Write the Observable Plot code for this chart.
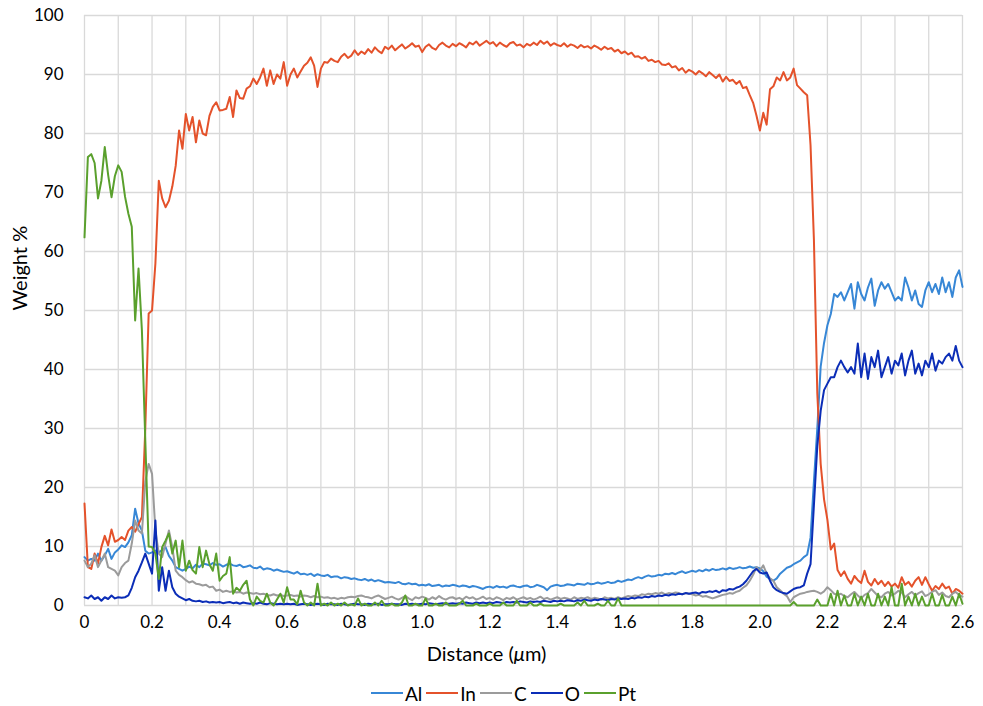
<!DOCTYPE html>
<html>
<head>
<meta charset="utf-8">
<script src="https://cdn.jsdelivr.net/npm/d3@7"></script>
<script src="https://cdn.jsdelivr.net/npm/@observablehq/plot@0.6"></script>
<style>
  html, body { margin: 0; padding: 0; background: #fff; }
  #chart { width: 983px; font-family: Lato, "Open Sans", sans-serif; }
  #legend { display: flex; justify-content: center; align-items: center; padding-left: 28px; padding-top: 6px; height: 24px; font-family: Lato, sans-serif; font-size: 19px; color: #000; }
  .item { display: flex; align-items: center; margin-right: 4px; }
  .sw { width: 32px; height: 2px; margin-right: 2px; }
</style>
</head>
<body>
<div id="chart"></div>
<div id="legend"></div>
<script>
// sampling positions along the line scan (µm), 0.01 µm step
const distance = d3.range(261).map(i => i / 100);

const al = [
  8.2, 7.6, 7.9, 7.6, 8.8, 7.6, 8.5, 9.6, 7.9, 9.0,
  9.5, 10.2, 9.9, 10.7, 11.9, 16.4, 13.9, 12.7, 9.3, 8.8,
  9.0, 9.3, 9.0, 9.4, 9.9, 8.4, 7.6, 6.5, 6.2, 5.9,
  6.2, 6.6, 6.3, 6.9, 6.5, 7.1, 7.0, 6.8, 7.2, 6.9,
  7.0, 6.6, 6.9, 7.1, 6.8, 6.7, 6.9, 6.5, 6.6, 6.8,
  6.4, 6.3, 6.6, 6.1, 6.3, 6.2, 5.9, 6.1, 5.9, 5.7,
  5.8, 5.6, 5.4, 5.7, 5.3, 5.4, 5.2, 5.4, 5.0, 5.3,
  5.1, 5.0, 5.2, 4.8, 4.9, 4.9, 4.6, 4.8, 4.7, 4.5,
  4.6, 4.4, 4.3, 4.5, 4.2, 4.4, 4.1, 4.3, 4.1, 3.9,
  4.0, 3.9, 3.8, 4.0, 3.7, 3.6, 3.8, 3.6, 3.7, 3.4,
  3.5, 3.4, 3.6, 3.3, 3.4, 3.5, 3.2, 3.4, 3.3, 3.5,
  3.4, 3.2, 3.4, 3.3, 3.1, 3.3, 3.2, 3.0, 2.8, 3.1,
  3.2, 3.0, 3.3, 3.1, 3.2, 3.0, 3.3, 3.4, 3.2, 3.1,
  3.3, 3.4, 3.1, 3.2, 3.5, 3.3, 3.1, 2.6, 3.2, 3.4,
  3.5, 3.3, 3.4, 3.6, 3.5, 3.4, 3.7, 3.6, 3.5, 3.8,
  3.6, 3.7, 3.9, 3.7, 3.8, 4.0, 3.8, 3.9, 4.2, 4.0,
  4.2, 4.4, 4.3, 4.6, 4.8, 4.6, 4.9, 5.1, 4.9, 5.0,
  5.2, 5.1, 5.4, 5.3, 5.5, 5.3, 5.6, 5.8, 5.5, 5.7,
  5.9, 5.7, 6.0, 5.8, 6.1, 5.9, 6.2, 6.0, 6.1, 6.3,
  6.1, 6.4, 6.2, 6.3, 6.5, 6.3, 6.4, 6.6, 6.4, 6.5,
  6.3, 5.8, 4.9, 4.5, 4.2, 4.6, 5.4, 5.9, 6.4, 6.6,
  7.0, 7.3, 7.6, 8.2, 8.6, 11.5, 21.0, 30.0, 40.5, 44.5,
  47.5, 49.4, 52.8, 52.3, 53.1, 51.7, 53.1, 54.5, 50.3, 54.8,
  52.8, 51.7, 53.9, 55.4, 50.8, 53.4, 54.8, 53.7, 54.5, 53.1,
  51.7, 52.3, 51.7, 55.6, 53.9, 51.7, 53.4, 51.1, 50.6, 53.4,
  54.8, 53.1, 54.5, 52.8, 55.6, 53.1, 54.8, 52.3, 55.6, 56.8,
  54.0
];

const inWt = [
  17.3, 6.5, 6.2, 8.8, 7.1, 9.9, 11.8, 10.2, 12.9, 10.8,
  11.1, 11.6, 11.1, 12.7, 13.3, 12.5, 13.8, 15.0, 30.0, 49.5,
  50.0, 58.0, 72.0, 69.0, 67.5, 68.6, 71.0, 74.5, 80.5, 77.4,
  83.3, 80.5, 82.8, 78.5, 82.2, 80.0, 79.7, 83.0, 84.5, 85.3,
  83.9, 84.0, 84.2, 86.2, 82.8, 87.3, 86.0, 85.9, 87.6, 88.0,
  89.3, 88.4, 89.5, 91.0, 88.1, 90.7, 88.4, 90.0, 89.3, 92.1,
  88.1, 90.0, 91.0, 89.5, 90.5, 91.5, 92.0, 92.9, 91.5, 87.9,
  91.0, 92.1, 92.0, 92.7, 92.3, 92.1, 93.0, 93.5, 92.8, 93.2,
  94.1, 93.3, 93.9, 93.5, 94.3, 93.7, 94.6, 94.0, 93.6, 94.7,
  94.3, 94.9, 94.1, 94.6, 95.1, 94.4, 94.8, 95.3, 94.7, 94.9,
  93.8, 94.7, 95.1, 94.5, 94.2, 95.0, 95.4, 94.9, 94.6, 95.2,
  94.8, 95.3, 95.0, 94.6, 95.4, 95.1, 95.6, 94.9, 95.3, 95.7,
  95.2, 95.5, 94.8, 95.4, 95.0, 94.7, 95.3, 95.5, 94.9, 95.1,
  94.6, 95.2, 94.9, 95.4, 95.0, 95.7, 95.2, 95.6, 94.9, 95.3,
  95.0, 94.8, 95.3, 94.7, 95.1, 94.9, 94.5, 95.0, 94.6, 94.8,
  94.4, 94.9, 94.6, 94.2, 94.7, 94.3, 94.5, 93.9, 94.2, 93.6,
  93.9, 93.4, 93.7, 93.0, 93.1, 92.7, 93.0, 92.3, 92.5, 92.1,
  92.3, 91.7, 91.6, 91.9, 91.2, 91.4, 90.7, 91.1, 90.3, 90.8,
  90.5, 90.0, 90.6, 90.2, 89.7, 90.4, 89.9, 89.4, 90.0, 88.8,
  89.6, 88.9, 89.1, 88.4, 88.9, 87.7, 87.9, 86.5, 85.2, 83.0,
  80.5, 83.5, 81.5, 87.5, 88.0, 89.5, 89.0, 90.4, 89.0, 89.5,
  91.0, 88.2, 87.6, 87.0, 86.5, 78.0, 62.0, 36.0, 24.0, 18.0,
  14.5, 9.5, 10.5, 6.0, 5.0, 5.8, 4.5, 3.7, 5.0, 4.3,
  3.8, 5.9, 4.0, 3.4, 4.5, 3.6, 4.2, 3.3, 4.0, 3.2,
  3.7, 3.0, 4.8, 3.5, 4.0, 3.2, 4.2, 4.8, 3.5, 4.8,
  3.6, 2.5, 3.3, 2.8, 3.7, 2.9, 3.2, 2.0, 2.8, 2.5,
  2.0
];

const c = [
  7.6, 6.5, 7.1, 8.5, 6.5, 7.6, 8.8, 6.5, 6.2, 5.9,
  5.1, 6.5, 7.2, 7.6, 10.5, 14.4, 12.7, 12.2, 21.0, 24.0,
  22.3, 12.7, 8.8, 8.2, 10.5, 12.7, 9.9, 5.9, 5.2, 4.8,
  4.3, 3.9, 4.1, 3.7, 3.6, 3.4, 3.5, 3.1, 3.2, 2.5,
  2.7, 2.3, 2.5, 2.3, 2.4, 2.2, 2.3, 2.0, 2.2, 2.1,
  2.0, 2.1, 1.9, 2.0, 1.8, 1.7, 1.9, 1.7, 1.8, 1.6,
  1.7, 1.8, 1.6, 1.7, 1.5, 1.7, 1.6, 1.4, 1.6, 1.4,
  1.5, 1.3, 1.4, 1.2, 1.3, 1.1, 1.3, 1.2, 1.4, 1.5,
  1.4, 1.6, 1.7, 1.5, 1.4, 1.2, 1.5, 1.7, 1.4, 1.1,
  1.3, 1.5, 1.2, 1.0, 1.3, 1.6, 1.2, 0.9, 1.4, 1.2,
  1.5, 1.3, 1.0, 1.4, 1.1, 1.6, 1.2, 1.0, 1.3, 1.4,
  1.1, 1.3, 1.0, 1.5, 1.2, 1.4, 1.0, 1.2, 1.5, 1.1,
  1.3, 1.0, 1.4, 1.2, 0.9, 1.3, 1.1, 1.4, 1.0, 1.2,
  1.4, 1.1, 1.3, 1.0, 1.2, 1.5, 1.1, 1.3, 1.0, 1.2,
  1.4, 1.1, 1.3, 1.2, 1.0, 1.4, 1.1, 1.3, 1.2, 1.4,
  1.1, 1.3, 1.2, 1.0, 1.4, 1.2, 1.3, 1.1, 1.4, 1.2,
  1.4, 1.6, 1.5, 1.7, 1.6, 1.9, 1.8, 2.0, 1.9, 2.1,
  2.0, 2.2, 1.9, 2.1, 2.0, 2.2, 2.1, 1.9, 2.1, 2.0,
  1.9, 1.7, 1.8, 1.5, 1.6, 1.4, 1.2, 1.4, 1.6, 1.8,
  1.9, 2.1, 2.0, 2.3, 2.5, 3.0, 3.4, 4.2, 5.2, 6.5,
  5.9, 6.8, 5.4, 4.6, 4.2, 3.1, 2.6, 2.0, 1.6, 0.6,
  1.4, 1.7, 2.0, 2.1, 2.3, 2.4, 2.5, 2.3, 2.0, 2.4,
  3.1, 2.6, 2.0, 1.8, 2.0, 1.6, 1.4, 1.9, 2.3, 1.7,
  1.2, 1.8, 2.1, 2.8, 2.2, 1.6, 1.4, 2.0, 2.3, 1.7,
  2.0, 2.5, 2.2, 1.4, 1.9, 2.3, 1.7, 2.1, 2.4, 1.6,
  1.9, 2.3, 2.6, 1.8, 2.2, 1.6, 1.4, 2.0, 2.3, 1.8,
  1.5
];

const o = [
  1.4, 1.2, 1.7, 1.1, 1.4, 0.8, 1.4, 1.1, 1.7, 1.2,
  1.4, 1.3, 1.4, 1.7, 3.0, 4.8, 5.9, 7.3, 8.8, 7.1,
  5.4, 14.4, 2.5, 6.5, 2.5, 5.9, 3.1, 2.0, 1.5, 1.2,
  0.9, 1.1, 0.8, 0.7, 0.8, 0.6, 0.7, 0.5, 0.6, 0.5,
  0.6, 0.4, 0.5, 0.6, 0.4, 0.5, 0.3, 0.5, 0.4, 0.3,
  0.4, 0.3, 0.5, 0.3, 0.2, 0.4, 0.3, 0.2, 0.3, 0.2,
  0.3, 0.2, 0.3, 0.1, 0.2, 0.3, 0.2, 0.1, 0.2, 0.3,
  0.2, 0.1, 0.3, 0.2, 0.2, 0.1, 0.3, 0.2, 0.1, 0.2,
  0.3, 0.2, 0.2, 0.1, 0.3, 0.2, 0.2, 0.3, 0.1, 0.2,
  0.2, 0.3, 0.2, 0.2, 0.1, 0.3, 0.2, 0.3, 0.2, 0.2,
  0.3, 0.2, 0.4, 0.3, 0.2, 0.3, 0.4, 0.3, 0.3, 0.4,
  0.3, 0.4, 0.3, 0.5, 0.4, 0.3, 0.5, 0.4, 0.5, 0.4,
  0.5, 0.4, 0.6, 0.5, 0.4, 0.6, 0.5, 0.6, 0.5, 0.7,
  0.6, 0.5, 0.7, 0.6, 0.7, 0.6, 0.8, 0.7, 0.6, 0.8,
  0.7, 0.8, 0.7, 0.9, 0.8, 0.7, 0.9, 0.8, 1.0, 0.9,
  0.8, 1.0, 0.9, 1.1, 1.0, 0.9, 1.1, 1.0, 1.2, 1.1,
  1.2, 1.1, 1.3, 1.2, 1.4, 1.3, 1.5, 1.4, 1.6, 1.5,
  1.7, 1.6, 1.8, 1.7, 1.9, 1.8, 2.0, 1.9, 2.1, 2.0,
  2.1, 2.2, 2.0, 2.3, 2.2, 2.4, 2.3, 2.5, 2.2, 2.6,
  2.5, 2.8, 2.7, 3.0, 3.2, 3.6, 4.2, 5.0, 5.8, 6.2,
  5.6, 5.4, 5.6, 4.2, 3.1, 2.6, 2.3, 2.1, 2.0, 2.4,
  2.8, 3.0, 3.1, 3.4, 5.4, 7.0, 17.0, 27.0, 33.0, 36.5,
  37.6, 38.7, 38.7, 40.4, 41.5, 40.4, 39.5, 40.4, 39.3, 44.4,
  38.7, 42.7, 38.4, 42.1, 40.4, 43.2, 38.7, 40.4, 42.1, 39.3,
  41.5, 40.7, 42.7, 39.0, 41.5, 43.2, 39.3, 41.0, 39.0, 41.5,
  40.4, 42.7, 39.8, 41.5, 41.0, 42.1, 42.7, 41.5, 44.0, 41.5,
  40.4
];

const pt = [
  62.4, 76.0, 76.5, 75.0, 69.0, 72.0, 77.7, 73.0, 69.2, 72.8,
  74.6, 73.5, 69.3, 66.4, 64.2, 48.3, 57.1, 46.6, 28.0, 10.0,
  9.9, 8.8, 4.5, 9.9, 11.0, 12.2, 8.8, 11.0, 6.5, 11.0,
  5.9, 7.6, 6.0, 5.4, 9.9, 6.5, 9.3, 7.0, 5.9, 8.8,
  4.2, 5.0, 5.4, 8.2, 2.0, 3.0, 2.5, 3.5, 4.2, 1.0,
  0.0, 1.5, 0.8, 0.5, 2.0, 0.5, 0.0, 1.0, 2.0, 0.5,
  3.1, 1.0, 1.0, 0.2, 2.5, 0.5, 0.0, 0.5, 0.0, 3.7,
  0.0, 0.3, 0.0, 0.5, 0.0, 0.3, 0.0, 0.5, 0.0, 0.2,
  0.0, 1.2, 0.0, 0.3, 0.0, 0.0, 0.5, 0.0, 0.8, 0.0,
  0.0, 0.3, 0.0, 0.0, 0.5, 1.7, 0.0, 0.0, 0.3, 0.0,
  0.0, 1.2, 0.0, 0.0, 0.3, 0.0, 0.0, 0.5, 0.0, 0.0,
  0.0, 0.3, 0.8, 0.0, 0.0, 0.0, 0.3, 0.0, 0.0, 0.0,
  0.3, 0.0, 0.0, 0.0, 0.5, 0.0, 0.0, 0.0, 0.8, 0.0,
  0.0, 0.0, 0.5, 0.0, 0.0, 0.3, 0.0, 0.0, 0.0, 0.0,
  0.0, 0.3, 0.0, 0.0, 0.0, 0.0, 0.5, 0.0, 0.8, 0.0,
  0.0, 0.0, 0.3, 0.0, 0.0, 0.8, 0.0, 0.0, 1.2, 0.0,
  0, 0, 0, 0, 0, 0, 0, 0, 0, 0,
  0, 0, 0, 0, 0, 0, 0, 0, 0, 0,
  0, 0, 0, 0, 0, 0, 0, 0, 0, 0,
  0, 0, 0, 0, 0, 0, 0, 0, 0, 0,
  0, 0, 0, 0, 0, 0, 0, 0, 0, 0,
  0.6, 0, 0, 0, 0, 0, 0, 1.0, 0, 0,
  0.0, 2.0, 0.0, 2.5, 0.0, 1.7, 0.0, 0.0, 2.0, 0.0,
  1.5, 0.0, 2.0, 0.0, 0.0, 2.0, 0.0, 1.5, 0.0, 3.1,
  0.0, 0.0, 3.7, 0.0, 1.5, 0.0, 2.0, 0.0, 1.5, 0.0,
  0.0, 2.0, 0.0, 0.0, 1.8, 0.0, 0.0, 1.5, 0.0, 2.0,
  0.3
];

const seriesNames = ["Al", "In", "C", "O", "Pt"];
const seriesColors = ["#3787D6", "#E4522B", "#9B9B9B", "#0B2DB7", "#5AA02D"];
const xTicks = [0, 0.2, 0.4, 0.6, 0.8, 1.0, 1.2, 1.4, 1.6, 1.8, 2.0, 2.2, 2.4, 2.6];
const yTicks = [0, 10, 20, 30, 40, 50, 60, 70, 80, 90, 100];
const xGrid = d3.range(27).map(i => i / 10);
const xLabel = "Distance (μm)";
const yLabel = "Weight %";

const valuesBySeries = [al, inWt, c, o, pt];
const rows = seriesNames.flatMap((s, k) =>
  distance.map((d, i) => ({distance: d, value: valuesBySeries[k][i], series: s})));

const plot = Plot.plot({
  width: 983,
  height: 675,
  marginLeft: 84,
  marginRight: 21,
  marginTop: 15,
  marginBottom: 70,
  style: {fontFamily: "Lato, 'Open Sans', sans-serif", fontSize: "17px", color: "#000", background: "#fff", overflow: "visible"},
  x: {domain: [0, 2.6]},
  y: {domain: [0, 100]},
  color: {domain: seriesNames, range: seriesColors},
  marks: [
    Plot.gridX(xGrid, {stroke: "#d9d9d9", strokeOpacity: 1, strokeWidth: 1.3}),
    Plot.gridY(yTicks, {stroke: "#d9d9d9", strokeOpacity: 1, strokeWidth: 1.3}),
    Plot.axisX(xTicks, {tickSize: 0, tickPadding: 10, tickFormat: d => d === 0 ? "0" : d.toFixed(1), label: null, fill: "#000"}),
    Plot.axisY(yTicks, {tickSize: 0, tickPadding: 21, label: null, fill: "#000"}),
    Plot.line(rows, {x: "distance", y: "value", z: "series", stroke: "series", strokeWidth: 2, strokeLinejoin: "round"}),
    Plot.text([xLabel], {frameAnchor: "bottom", dy: 55, dx: -37, fontSize: 20, fill: "#000"}),
    Plot.text([yLabel], {frameAnchor: "left", dx: -64, rotate: -90, fontSize: 20, fill: "#000"})
  ]
});

d3.select(plot).selectAll("text").filter(function () { return this.textContent === xLabel; })
  .each(function () {
    const t = d3.select(this);
    t.text(null);
    t.append("tspan").text("Distance (");
    t.append("tspan").attr("font-style", "italic").text("μ");
    t.append("tspan").text("m)");
  });

document.getElementById("chart").appendChild(plot);

const legend = d3.select("#legend");
seriesNames.forEach((s, k) => {
  const item = legend.append("div").attr("class", "item");
  item.append("div").attr("class", "sw").style("background", seriesColors[k]);
  item.append("span").text(s);
});
</script>
</body>
</html>
